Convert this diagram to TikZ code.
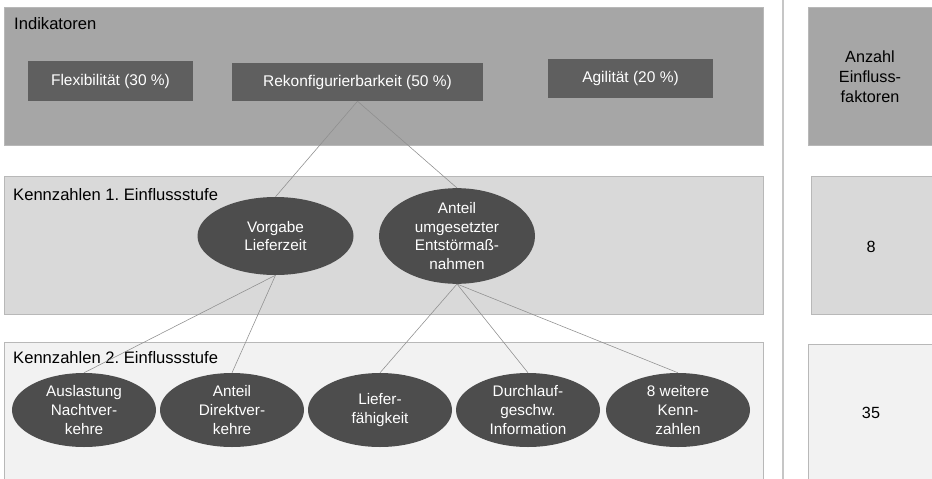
\documentclass[tikz,border=0pt]{standalone}
\usepackage{fontspec}
\setmainfont{Liberation Sans}
\frenchspacing
\usetikzlibrary{shapes.geometric}
\definecolor{bandA}{HTML}{A6A6A6}
\definecolor{bandB}{HTML}{D9D9D9}
\definecolor{bandC}{HTML}{F2F2F2}
\definecolor{boxdark}{HTML}{5F5F5F}
\definecolor{elldark}{HTML}{4D4D4D}
\definecolor{edgegray}{HTML}{B8B8B8}
\definecolor{linkgray}{HTML}{8E8E8E}
\tikzset{
  band/.style={draw=edgegray, line width=0.8pt},
  bandtitle/.style={anchor=west, inner sep=0pt, font=\fontsize{16.6}{19}\selectfont},
  indbox/.style={fill=boxdark, text=white, inner sep=0pt, font=\fontsize{15.5}{19}\selectfont},
  kz/.style={ellipse, fill=elldark, text=white, inner sep=0pt, minimum width=#1, align=center, font=\fontsize{15.3}{18.8}\selectfont},
  kz/.default=156pt,
  countlabel/.style={align=center, font=\fontsize{16.2}{20}\selectfont},
  link/.style={draw=linkgray, line width=0.55pt}
}
\begin{document}
\begin{tikzpicture}[x=1pt, y=-1pt]
\useasboundingbox (0,0) rectangle (932,479);
\fill[white] (0,0) rectangle (932,479);

% column divider
\draw[draw=edgegray!80, line width=1.4pt] (783,0) -- (783,479);

% bands
\filldraw[band, fill=bandA] (4,7) rectangle (763,145);
\filldraw[band, fill=bandB] (4,176) rectangle (763,314);
\filldraw[band, fill=bandC] (4,342) rectangle (763,485);

% count column
\filldraw[band, fill=bandA] (808,7) rectangle (940,145);
\filldraw[band, fill=bandB] (811,176) rectangle (940,314);
\filldraw[band, fill=bandC] (808,344) rectangle (940,485);

\node[countlabel] (cnt0) at (870,77) {Anzahl\\Einfluss-\\faktoren};
\node[countlabel] (cnt1) at (871,247) {8};
\node[countlabel] (cnt2) at (871,413) {35};

% band titles
\node[bandtitle] (t0) at (14,24) {Indikatoren};
\node[bandtitle] (t1) at (13,195) {Kennzahlen 1. Einflussstufe};
\node[bandtitle] (t2) at (13,358) {Kennzahlen 2. Einflussstufe};

% indicators
\node[indbox, minimum width=165pt, minimum height=40pt] (flex) at (110.5,81) {Flexibilität (30~\%)};
\node[indbox, minimum width=251pt, minimum height=38pt] (rekon) at (357.5,82) {Rekonfigurierbarkeit (50~\%)};
\node[indbox, minimum width=165pt, minimum height=39pt] (agil) at (630.5,78.5) {Agilität (20~\%)};

% first-level key figures
\node[kz, minimum height=78pt] (vorgabe) at (275.5,236) {Vorgabe\\Lieferzeit};
\node[kz, minimum height=78pt] (anteil) at (457,236) {Anteil\\umgesetzter\\Entstörmaß-\\nahmen};

% second-level key figures
\node[kz=144pt, minimum height=74pt] (ausl) at (84,410) {Auslastung\\Nachtver-\\kehre};
\node[kz=144pt, minimum height=74pt] (direkt) at (232,410) {Anteil\\Direktver-\\kehre};
\node[kz=144pt, minimum height=74pt] (liefer) at (380,410) {Liefer-\\fähigkeit};
\node[kz=144pt, minimum height=74pt] (durch) at (528,410) {Durchlauf-\\geschw.\\Information};
\node[kz=144pt, minimum height=74pt] (weitere) at (678,410) {8 weitere\\Kenn-\\zahlen};

% links
\draw[link] (rekon.south) -- (vorgabe.north);
\draw[link] (rekon.south) -- (anteil.north);
\draw[link] (vorgabe.south) -- (ausl.north);
\draw[link] (vorgabe.south) -- (direkt.north);
\draw[link] (anteil.south) -- (liefer.north);
\draw[link] (anteil.south) -- (durch.north);
\draw[link] (anteil.south) -- (weitere.north);
\end{tikzpicture}
\end{document}
